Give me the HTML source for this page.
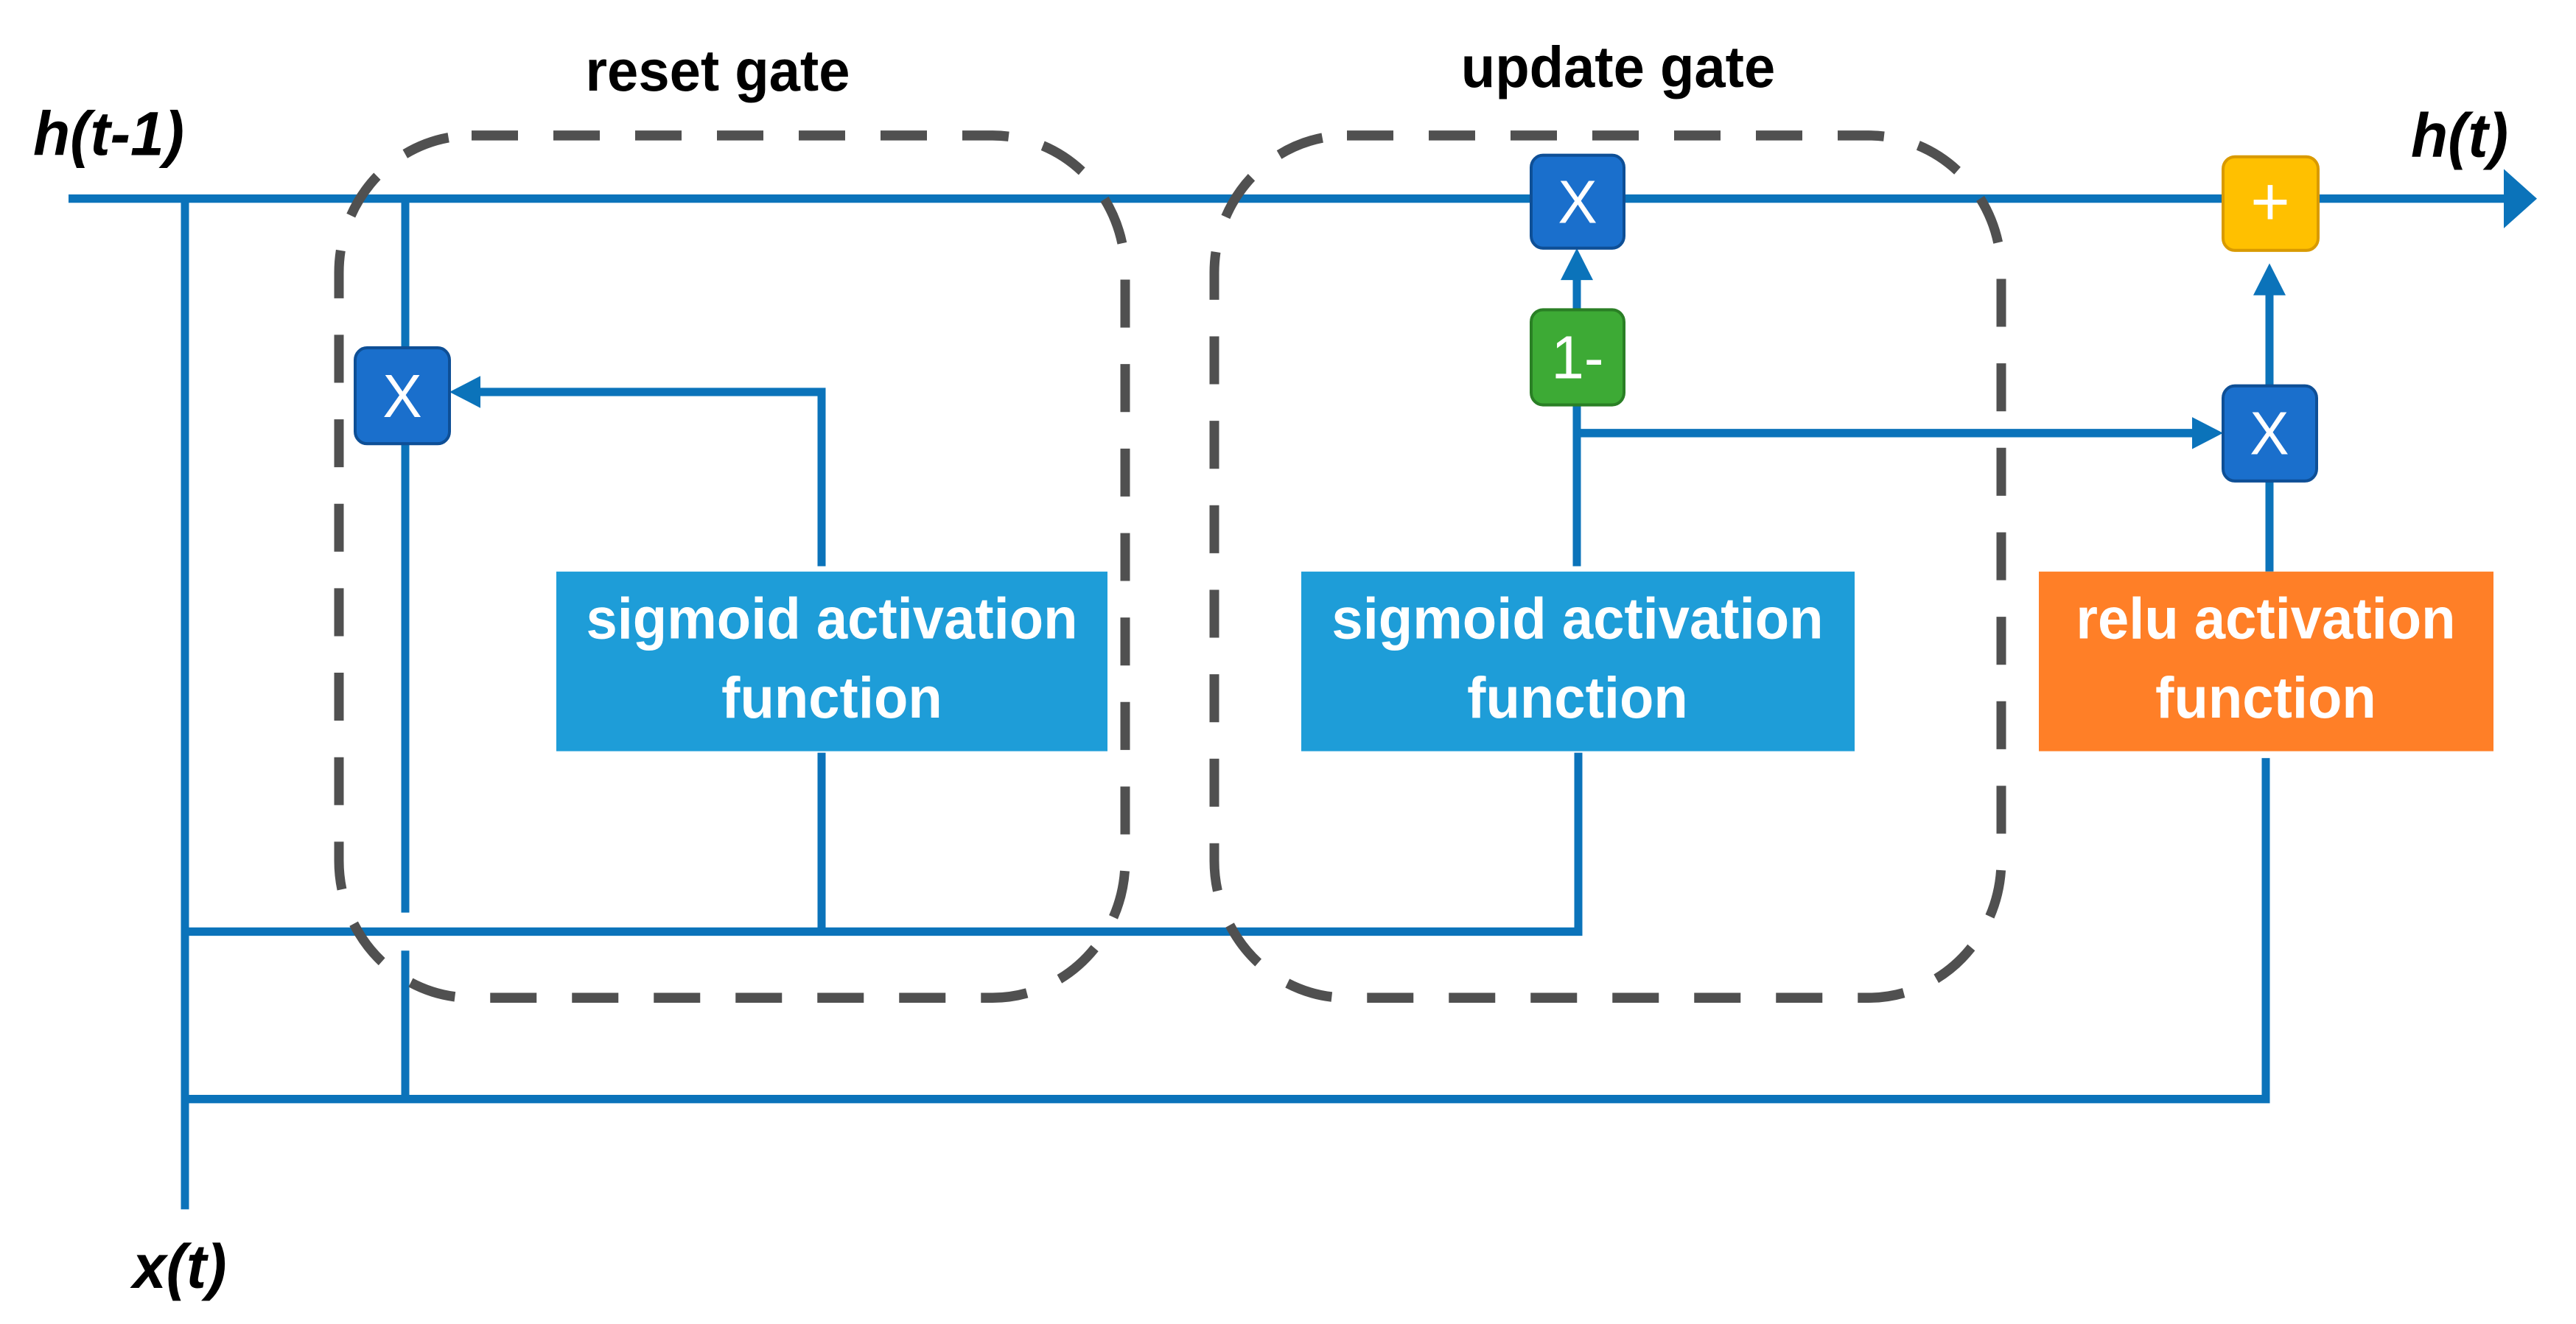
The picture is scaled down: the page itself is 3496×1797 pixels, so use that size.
<!DOCTYPE html>
<html><head><meta charset="utf-8"><style>
html,body{margin:0;padding:0;background:#fff;}
svg{display:block;}
text{font-family:"Liberation Sans",sans-serif;font-weight:bold;}
</style></head><body>
<svg width="3496" height="1797" viewBox="0 0 3496 1797" xmlns="http://www.w3.org/2000/svg">
<g transform="scale(1,1.033)">
<g stroke="#0B73BA" stroke-width="11" fill="none">
<line x1="93" y1="261" x2="3400" y2="261"/>
<line x1="251" y1="261" x2="251" y2="1589"/>
<line x1="550" y1="261" x2="550" y2="1199"/>
<line x1="550" y1="1249" x2="550" y2="1444"/>
<polyline points="1115,744 1115,515 650,515"/>
<line x1="1115" y1="989" x2="1115" y2="1224"/>
<polyline points="251,1224 2142,1224 2142,989"/>
<polyline points="251,1444 3075,1444 3075,996"/>
<line x1="2140" y1="744" x2="2140" y2="365"/>
<line x1="2140" y1="569" x2="2980" y2="569"/>
<line x1="3080" y1="751" x2="3080" y2="632"/>
<line x1="3080" y1="507" x2="3080" y2="385"/>
</g>
<g fill="#0B73BA">
<polygon points="610,515 652,494 652,536"/>
<polygon points="2140,326 2118,368 2162,368"/>
<polygon points="3017,569 2975,548 2975,590"/>
<polygon points="3080,346 3058,388 3102,388"/>
<polygon points="3443,261 3398,222 3398,300"/>
</g>
<g stroke="#505050" stroke-width="13" fill="none" stroke-dasharray="63 48">
<rect x="460" y="178" width="1067" height="1133" rx="180" ry="180"/>
<rect x="1648" y="178" width="1068" height="1133" rx="180" ry="180"/>
</g>
<rect x="755" y="751" width="748" height="236" fill="#1E9DD8"/>
<rect x="1766" y="751" width="751" height="236" fill="#1E9DD8"/>
<rect x="2767" y="751" width="617" height="236" fill="#FF7F27"/>
<g stroke-width="4">
<rect x="482" y="457" width="128" height="126" rx="16" fill="#1A6FCC" stroke="#0E4F96"/>
<rect x="2078" y="204" width="126" height="122" rx="16" fill="#1A6FCC" stroke="#0E4F96"/>
<rect x="2078" y="407" width="126" height="125" rx="16" fill="#3DAA35" stroke="#2A7F25"/>
<rect x="3017" y="507" width="127" height="125" rx="16" fill="#1A6FCC" stroke="#0E4F96"/>
<rect x="3017" y="206" width="129" height="123" rx="16" fill="#FFC000" stroke="#D99A00"/>
</g>
<g fill="#fff" font-size="80" text-anchor="middle">
<text x="546" y="548" style="font-weight:normal">X</text>
<text x="2141" y="293" style="font-weight:normal">X</text>
<text x="2141" y="497" style="font-weight:normal">1-</text>
<text x="3080" y="597" style="font-weight:normal">X</text>
<text x="3081" y="296" font-size="92" style="font-weight:normal">+</text>
</g>
<g fill="#fff" font-size="76" text-anchor="middle">
<text x="1129" y="839">sigmoid activation</text>
<text x="1129" y="943">function</text>
<text x="2141" y="839">sigmoid activation</text>
<text x="2141" y="943">function</text>
<text x="3075" y="839">relu activation</text>
<text x="3075" y="943">function</text>
</g>
<g fill="#000" font-size="76">
<text x="974" y="119" text-anchor="middle">reset gate</text>
<text x="2196" y="114" text-anchor="middle">update gate</text>
<text x="45" y="204" font-style="italic" font-size="82">h(t-1)</text>
<text x="3272" y="206" font-style="italic" font-size="82">h(t)</text>
<text x="180" y="1692" font-style="italic" font-size="82">x(t)</text>
</g>
</g>
</svg>
</body></html>
